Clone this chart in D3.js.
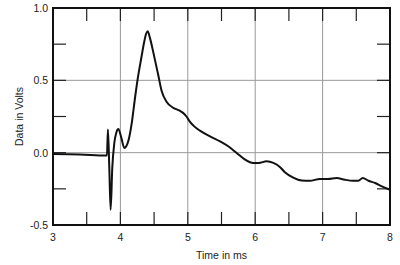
<!DOCTYPE html>
<html>
<head>
<meta charset="utf-8">
<script src="https://cdn.jsdelivr.net/npm/d3@7"></script>
<style>
  body { margin: 0; background: #fff; }
  svg text { font-family: "Liberation Sans", Arial, sans-serif; fill: #222; }
</style>
</head>
<body>
<script>
// impulse response
const timeMs = [3.0, 3.4, 3.79, 3.80, 3.815, 3.835, 3.855, 3.88, 3.91, 3.94, 3.97, 4.01, 4.058,
  4.12, 4.17, 4.22, 4.26, 4.306, 4.355, 4.38, 4.405, 4.44, 4.49, 4.56, 4.61, 4.687, 4.785,
  4.88, 4.93, 4.98, 5.03, 5.1, 5.18, 5.33, 5.48, 5.6, 5.725, 5.85, 5.97, 6.05, 6.17, 6.27,
  6.37, 6.44, 6.565, 6.69, 6.81, 6.96, 7.08, 7.21, 7.33, 7.455, 7.53, 7.595, 7.68, 7.78, 7.88, 8.0];
const volts = [-0.01, -0.013, -0.02, -0.02, 0.16, -0.1, -0.395, -0.1, 0.067, 0.14, 0.164, 0.11, 0.033,
  0.085, 0.21, 0.39, 0.52, 0.644, 0.77, 0.82, 0.84, 0.79, 0.69, 0.54, 0.43, 0.35, 0.31,
  0.29, 0.275, 0.25, 0.215, 0.18, 0.152, 0.113, 0.078, 0.044, -0.002, -0.048, -0.071, -0.071, -0.06, -0.071,
  -0.1, -0.135, -0.172, -0.192, -0.194, -0.182, -0.182, -0.175, -0.187, -0.194, -0.194, -0.175, -0.194, -0.21, -0.233, -0.256];

const xMajor = [3, 4, 5, 6, 7, 8];
const xMinor = [3.5, 4.5, 5.5, 6.5, 7.5];
const yMajor = [-0.5, 0.0, 0.5, 1.0];
const yMinor = [-0.25, 0.25, 0.75];

const W = 400, H = 265;
const m = { left: 53, right: 10, top: 8, bottom: 40 };

const svg = d3.select("body").append("svg")
  .attr("width", W)
  .attr("height", H);

const x = d3.scaleLinear().domain([3, 8]).range([m.left, W - m.right]);
const y = d3.scaleLinear().domain([-0.5, 1.0]).range([H - m.bottom, m.top]);

const TICK = 13;

// grid
svg.append("g").selectAll("line")
  .data(xMajor.slice(1, -1)).join("line")
  .attr("x1", d => x(d)).attr("x2", d => x(d))
  .attr("y1", y(1)).attr("y2", y(-0.5))
  .attr("stroke", "#999").attr("stroke-width", 1);
svg.append("g").selectAll("line")
  .data(yMajor.slice(1, -1)).join("line")
  .attr("y1", d => y(d)).attr("y2", d => y(d))
  .attr("x1", x(3)).attr("x2", x(8))
  .attr("stroke", "#999").attr("stroke-width", 1);

// inside ticks on all four sides
const ticks = svg.append("g").attr("stroke", "#222").attr("stroke-width", 1.2);
const xt = xMajor.slice(1, -1).concat(xMinor);
const yt = yMajor.slice(1, -1).concat(yMinor);
ticks.selectAll(".xb").data(xt).join("line")
  .attr("x1", d => x(d)).attr("x2", d => x(d))
  .attr("y1", y(-0.5)).attr("y2", y(-0.5) - TICK);
ticks.selectAll(".xt").data(xt).join("line")
  .attr("x1", d => x(d)).attr("x2", d => x(d))
  .attr("y1", y(1)).attr("y2", y(1) + TICK);
ticks.selectAll(".yl").data(yt).join("line")
  .attr("y1", d => y(d)).attr("y2", d => y(d))
  .attr("x1", x(3)).attr("x2", x(3) + TICK);
ticks.selectAll(".yr").data(yt).join("line")
  .attr("y1", d => y(d)).attr("y2", d => y(d))
  .attr("x1", x(8)).attr("x2", x(8) - TICK);

// data line
const line = d3.line()
  .x((d, i) => x(timeMs[i]))
  .y(d => y(d))
  .curve(d3.curveMonotoneX);
svg.append("path")
  .attr("d", line(volts))
  .attr("fill", "none")
  .attr("stroke", "#111")
  .attr("stroke-width", 2)
  .attr("stroke-linejoin", "round");

// frame
svg.append("rect")
  .attr("x", x(3)).attr("y", y(1))
  .attr("width", x(8) - x(3)).attr("height", y(-0.5) - y(1))
  .attr("fill", "none").attr("stroke", "#111").attr("stroke-width", 2);

// labels
svg.append("g").selectAll("text")
  .data(xMajor).join("text")
  .attr("x", d => x(d)).attr("y", y(-0.5) + 16)
  .attr("text-anchor", "middle")
  .attr("font-size", 10.5)
  .text(d => d);
svg.append("g").selectAll("text")
  .data(yMajor).join("text")
  .attr("x", x(3) - 5).attr("y", d => y(d) + 4)
  .attr("text-anchor", "end")
  .attr("font-size", 10.5)
  .text(d => d.toFixed(1));

svg.append("text")
  .attr("x", (x(3) + x(8)) / 2).attr("y", H - 6)
  .attr("text-anchor", "middle")
  .attr("font-size", 10.5)
  .text("Time in ms");
svg.append("text")
  .attr("transform", `translate(23,${(y(1) + y(-0.5)) / 2}) rotate(-90)`)
  .attr("text-anchor", "middle")
  .attr("font-size", 10.5)
  .text("Data in Volts");
</script>
</body>
</html>
